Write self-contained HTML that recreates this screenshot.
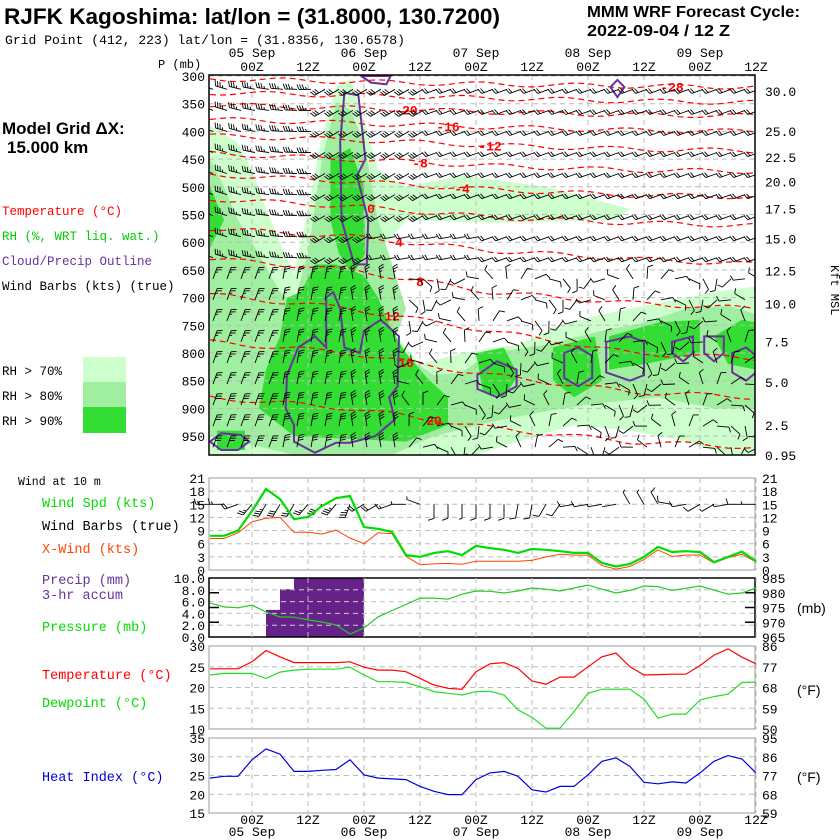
<!DOCTYPE html>
<html><head><meta charset="utf-8"><style>
html,body{margin:0;padding:0;background:#fff;}
svg{display:block;font-family:"Liberation Mono",monospace;}
.sans{font-family:"Liberation Sans",sans-serif;}
</style></head><body>
<svg id="chart" width="840" height="840" viewBox="0 0 840 840" xmlns="http://www.w3.org/2000/svg">
<text class="sans" x="4" y="24" font-size="22" font-weight="bold" textLength="496" lengthAdjust="spacingAndGlyphs">RJFK Kagoshima:  lat/lon = (31.8000, 130.7200)</text>
<text x="5" y="44" font-size="13" textLength="400" lengthAdjust="spacingAndGlyphs">Grid Point (412, 223) lat/lon = (31.8356, 130.6578)</text>
<text class="sans" x="587" y="17" font-size="16" font-weight="bold" textLength="213" lengthAdjust="spacingAndGlyphs">MMM WRF Forecast Cycle:</text>
<text class="sans" x="587" y="36" font-size="16" font-weight="bold" textLength="143" lengthAdjust="spacingAndGlyphs">2022-09-04 / 12  Z</text>
<text class="sans" x="2" y="134" font-size="17" font-weight="bold">Model Grid ΔX:</text>
<text class="sans" x="7" y="153" font-size="17" font-weight="bold">15.000 km</text>
<g font-size="12.5">
<text x="2" y="215" fill="#ff0000">Temperature (°C)</text>
<text x="2" y="240" fill="#00cc00">RH (%, WRT liq. wat.)</text>
<text x="2" y="265" fill="#663399">Cloud/Precip Outline</text>
<text x="2" y="290" fill="#000">Wind Barbs (kts) (true)</text>
<text x="2" y="375">RH &gt; 70%</text>
<text x="2" y="400">RH &gt; 80%</text>
<text x="2" y="425">RH &gt; 90%</text>
</g>
<rect x="83" y="357" width="43" height="25" fill="#ccffcc"/>
<rect x="83" y="382" width="43" height="25" fill="#a0eea0"/>
<rect x="83" y="407" width="43" height="26" fill="#33dd33"/>
<text x="158" y="68" font-size="12">P (mb)</text>
<text x="831" y="265" font-size="12" transform="rotate(90 831 265)">Kft MSL</text>
<g font-size="11.5">
<text x="18" y="485">Wind at 10 m</text>
</g>
<g font-size="13.5">
<text x="42" y="507" fill="#00dd00">Wind Spd (kts)</text>
<text x="42" y="530" fill="#000">Wind Barbs (true)</text>
<text x="42" y="553" fill="#ff4400">X-Wind (kts)</text>
<text x="42" y="584" fill="#663399">Precip (mm)</text>
<text x="42" y="599" fill="#663399">3-hr accum</text>
<text x="42" y="631" fill="#00dd00">Pressure (mb)</text>
<text x="42" y="679" fill="#ff0000">Temperature (°C)</text>
<text x="42" y="707" fill="#00dd00">Dewpoint (°C)</text>
<text x="42" y="781" fill="#0000dd">Heat Index (°C)</text>
</g>
<g font-size="14" class="sans">
<text x="797" y="613">(mb)</text>
<text x="797" y="695">(°F)</text>
<text x="797" y="782">(°F)</text>
</g>
<g id="upper"></g>
<g id="lower"></g>
</svg>
<script>
// ---------- data ----------
const steps = 40; // 3-hourly points, 15Z 04 Sep to 12Z 09 Sep
const timeTicks = [3,7,11,15,19,23,27,31,35,39];
const timeTickLabels = ["00Z","12Z","00Z","12Z","00Z","12Z","00Z","12Z","00Z","12Z"];
const dateLabels = ["05 Sep","06 Sep","07 Sep","08 Sep","09 Sep"];
const pressureTicks = [300,350,400,450,500,550,600,650,700,750,800,850,900,950];
const heightTicks = ["30.0","25.0","22.5","20.0","17.5","15.0","12.5","10.0","7.5","5.0","2.5","0.95"];
const heightTickPressure = [327,399,446,490,539,593,651,711,779,852,930,984];
const windSpd = [7.8,7.8,9,13.5,18.5,16.2,11.6,12.1,14.6,16.4,16.9,9.8,9.4,8.7,3.4,3.0,3.9,4.3,3.4,5.5,5.0,4.6,3.9,4.8,4.6,4.3,3.9,3.9,1.6,0.8,1.4,3.0,5.3,4.1,4.3,4.1,1.8,3.0,4.2,2.0];
const xWind = [7.2,7.2,8.5,11,11.8,12,8.6,8.6,8.2,9.1,7.3,6,8.5,8.3,3.1,1.2,1.4,1.5,1.3,2,2,2,2,2.2,3,3.6,3.4,3.4,1,0.2,0.8,2.4,4.6,3.1,3.4,3.4,1.6,2.8,3.6,1.8];
const windDir10 = [90,90,70,40,30,30,30,40,40,40,20,60,60,70,90,110,0,0,0,0,0,0,10,10,30,35,80,80,80,80,150,150,150,100,80,60,60,80,90,90];
const precip = [0,0,0,0,4.6,8.1,12,12,12,12,12,0,0,0,0,0,0,0,0,0,0,0,0,0,0,0,0,0,0,0,0,0,0,0,0,0,0,0,0];
const pressure = [976.5,975.2,974.9,975.8,973.5,971.8,971.7,970.8,970.1,969.1,966,968,971.8,974,976,978.2,978.2,977.8,979.5,980.6,980.5,979.9,980.6,981.6,981.2,980.6,981.6,982.6,981.2,979.9,980.8,982.3,982.1,980.8,981.5,982.3,980.9,979.5,979.9,981.6];
const temperature = [24.5,24.5,24.5,26.2,28.9,27.4,26,26,26,26,26.2,24.9,24.2,24.2,23.8,22.2,20.6,19.8,19.6,23.8,25.7,26,24.6,21.6,20.8,22.5,22.5,25,27.4,28.3,25,23,23.1,23.2,23.2,25.3,27.8,29.3,27.3,25.7];
const dewpoint = [23,23.4,23.4,23.4,22.2,23.7,24.2,24.4,24.4,24.4,24.9,23,21.4,21.4,21.2,20.2,19,18.6,18.2,19,19.1,18.2,14.6,12.8,10.2,10.2,14.2,18.6,19.6,19.6,19.6,17.2,12.6,13.6,13.6,17,17.8,18.4,21.2,21.3];
const heatIndex = [24.3,24.8,24.8,29.2,32.1,30.7,26.1,26.1,26.4,26.6,29.2,25.2,24.3,24.1,23.9,22.1,20.8,19.9,19.9,23.9,25.7,26.1,24.8,21.2,20.6,22.1,22.1,25.2,28.8,29.7,27.4,23.2,22.8,23.3,23,25.7,28.8,30.3,29.4,25.7];
const windTicks = [0,3,6,9,12,15,18,21];
const precipTicks = ["0.0","2.0","4.0","6.0","8.0","10.0"];
const presTicks = [965,970,975,980,985];
const tempTicks = [10,15,20,25,30];
const tempF = [50,59,68,77,86];
const hiTicks = [15,20,25,30,35];
const hiF = [59,68,77,86,95];
// isotherms: level (°C) and pressure at time nodes 0,10,20,30,39
const isoLevels = [-28,-24,-20,-16,-12,-8,-4,0,4,8,12,16,20];
const isoP0 = [305,330,352,378,408,440,478,522,575,630,695,780,880];
const isoP10 = [310,335,358,385,415,450,490,535,590,650,720,800,900];
const isoP20 = [315,340,365,392,425,462,505,555,615,690,760,840,935];
const isoP30 = [318,345,370,398,432,470,515,565,630,710,800,870,960];
const isoP39 = [320,348,372,400,435,472,518,570,640,720,810,880,970];
// RH areas as (step, pressure) pairs
const rh70 = [[0,390],[2,420],[3,470],[4,540],[5,600],[6,660],[7,540],[8,410],[9,320],[10,305],[11,380],[12,470],[14,500],[18,480],[24,500],[27,520],[30,540],[29,560],[20,565],[14,560],[12,620],[13,760],[15,820],[18,800],[22,785],[25,750],[28,730],[32,710],[36,690],[39,680],[39,984],[37,984],[34,960],[30,940],[26,930],[22,960],[19,984],[0,984]];
const rh80 = [[0,450],[1,500],[2,560],[3,600],[5,690],[6,710],[7,620],[8,450],[9,350],[10,360],[11,420],[12,560],[13,640],[14,720],[13,790],[16,840],[18,835],[20,800],[24,785],[28,760],[31,745],[34,720],[37,715],[39,730],[39,900],[36,900],[32,880],[28,890],[24,905],[20,925],[16,950],[13,984],[6,984],[2,960],[0,950]];
const rh90a = [[8.6,450],[10,430],[11,500],[11.1,620],[10.2,660],[9.2,620],[8.6,560]];
const rh90b = [[5.5,700],[6.5,690],[7.5,640],[9,640],[11,660],[12,700],[13,760],[14,800],[15.5,845],[17,880],[17,930],[14,960],[10,955],[6,950],[3.5,900],[4,830],[5,770]];
const rh90c = [[19,800],[21,790],[22,840],[21,880],[19.5,870]];
const rh90d = [[24.5,790],[27.5,770],[28,850],[26,880],[24.5,850]];
const rh90e = [[28.5,770],[32,745],[35,740],[35,800],[31,820],[28.5,830]];
const rh90f = [[36,770],[38,740],[39,745],[39,830],[37,820]];
const rh90g = [[0,500],[1,560],[0,610]];
const rh90h = [[0.5,940],[2.5,940],[2.5,975],[0.5,975]];
const cloud1 = [[9.6,330],[10.6,335],[11.1,450],[10.5,480],[11.3,560],[11.2,640],[10.3,640],[9.4,560],[9.3,420]];
const cloud2 = [[6.3,790],[7.5,770],[8.3,790],[8.3,700],[8.8,690],[9.3,720],[9.6,790],[10.7,800],[11,760],[12.2,740],[13.5,770],[13.4,860],[12.8,880],[13.2,920],[11.8,950],[10,962],[9,962],[7.5,980],[6,960],[6,930],[5.4,900],[5.5,840]];
const cloud3 = [[0,960],[0.8,945],[2.2,948],[2.8,960],[2,975],[0.8,975]];
const cloud4 = [[19.1,840],[20.5,815],[21.9,830],[21.9,860],[20.5,880],[19.1,865]];
const cloud5 = [[25.3,800],[26.3,790],[27.3,805],[27.3,845],[26.3,860],[25.3,845]];
const cloud6 = [[28.3,780],[30,770],[31,780],[31,840],[30,850],[28.3,835]];
const cloud7 = [[33,780],[34.5,770],[34.5,800],[33.8,815],[33,800]];
const cloud8 = [[35.3,770],[36.7,770],[36.7,800],[36,815],[35.3,800]];
const cloud9 = [[37.3,800],[38.3,790],[39,805],[39,835],[38.3,850],[37.3,835]];
const cloud10 = [[28.6,320],[29.1,307],[29.6,320],[29.1,338]];
const cloud11 = [[10.8,300],[11.5,312],[12.6,315],[12.9,300]];
const isoLabelSteps = [33,null,14,17,20,15,18,11.5,13.5,15,13,14,16];

// ---------- scales ----------
const L=209,R=755;
function X(s){return 210+14*s;}
function PY(p){return 76+(p-300)*0.554;}
function YW(v){return 570-v*92/21;}
function YP(v){return 637-v*5.9;}
function YPres(v){return 637-(v-965)*2.95;}
function YT(v){return 729-(v-10)*83/20;}
function YH(v){return 813-(v-15)*75/20;}
const NS="http://www.w3.org/2000/svg";
function mk(tag,attrs,parent){const e=document.createElementNS(NS,tag);for(const k in attrs)e.setAttribute(k,attrs[k]);parent.appendChild(e);return e;}
const up=document.getElementById('upper'), lo=document.getElementById('lower');

const defs=mk('defs',{},up);
const cp=mk('clipPath',{id:'upclip'},defs);mk('rect',{x:L,y:75,width:R-L,height:380},cp);
const ug=mk('g',{'clip-path':'url(#upclip)'},up);

function poly(arr,attrs,name){
  const e=mk('polygon',Object.assign({points:arr.map(a=>X(a[0]).toFixed(1)+','+PY(a[1]).toFixed(1)).join(' ')},attrs),ug);
  
  
  return e;
}
poly(rh70,{fill:'#ccffcc'},'rh-70-area');
poly(rh80,{fill:'#a0eea0'},'rh-80-area');
[rh90a,rh90b,rh90c,rh90d,rh90e,rh90f,rh90g,rh90h].forEach(a=>poly(a,{fill:'#33dd33'},'rh-90-area'));

pressureTicks.forEach(p=>{const l=mk('line',{x1:L,x2:R,y1:PY(p),y2:PY(p),stroke:'#bbb','stroke-dasharray':'5,4'},ug);

});
timeTicks.forEach(s=>{const l=mk('line',{x1:X(s),x2:X(s),y1:75,y2:455,stroke:'#bbb','stroke-dasharray':'5,4'},ug);

});

const nodes=[0,10,20,30,39];
isoLevels.forEach((lv,i)=>{
  const ps=[isoP0[i],isoP10[i],isoP20[i],isoP30[i],isoP39[i]];
  let pts=[];
  for(let s=0;s<=39;s+=0.5){
    let k=0;while(k<3&&s>nodes[k+1])k++;
    const f=(s-nodes[k])/(nodes[k+1]-nodes[k]);
    const p=ps[k]+(ps[k+1]-ps[k])*f+4*Math.sin(s*0.9+i);
    pts.push(X(s).toFixed(1)+','+PY(p).toFixed(1));
  }
  const e=mk('polyline',{points:pts.join(' '),fill:'none',stroke:'#ff0000','stroke-width':1.2,'stroke-dasharray':'6,4'},ug);
  
  
  if(isoLabelSteps[i]!==null){
    const s=isoLabelSteps[i];let k=0;while(k<3&&s>nodes[k+1])k++;
    const f=(s-nodes[k])/(nodes[k+1]-nodes[k]);const p=ps[k]+(ps[k+1]-ps[k])*f;
    const t=mk('text',{x:X(s),y:PY(p)+5,'font-size':13,'font-weight':'bold',fill:'#ff0000','text-anchor':'middle'},ug);
    t.textContent=String(lv);
    
    
  }
});

[cloud1,cloud2,cloud3,cloud4,cloud5,cloud6,cloud7,cloud8,cloud9,cloud10,cloud11].forEach(a=>poly(a,{fill:'none',stroke:'#663399','stroke-width':2},'cloud-outline'));

function barb(g,x,y,dir,spd,len,name){
  const r=dir*Math.PI/180;const dx=Math.sin(r),dy=-Math.cos(r);
  const tx=x+dx*len,ty=y+dy*len;
  let d='M'+x.toFixed(1)+','+y.toFixed(1)+'L'+tx.toFixed(1)+','+ty.toFixed(1);
  const px=-dy,py=dx;
  let v=Math.round(spd/5)*5,pos=0;
  const bl=len*0.42;
  while(v>=50){const bx=tx-dx*pos,by=ty-dy*pos;d+='M'+bx.toFixed(1)+','+by.toFixed(1)+'L'+(bx+px*bl).toFixed(1)+','+(by+py*bl).toFixed(1)+'L'+(bx-dx*3).toFixed(1)+','+(by-dy*3).toFixed(1);v-=50;pos+=4;}
  while(v>=10){const bx=tx-dx*pos,by=ty-dy*pos;d+='M'+bx.toFixed(1)+','+by.toFixed(1)+'L'+(bx+px*bl+dx*2).toFixed(1)+','+(by+py*bl+dy*2).toFixed(1);v-=10;pos+=2.5;}
  if(v>=5){const bx=tx-dx*pos,by=ty-dy*pos;d+='M'+bx.toFixed(1)+','+by.toFixed(1)+'L'+(bx+px*bl*0.5+dx).toFixed(1)+','+(by+py*bl*0.5+dy).toFixed(1);}
  const e=mk('path',{d:d,stroke:'#000','stroke-width':0.9,fill:'none'},g);
  
  
}
for(let s=0;s<40;s++){
  for(let p=315;p<=975;p+=38){
    let dir,spd;
    if(p<640){dir=s<8?290-s*3:(s<16?240:250);spd=s<8?35:(s<16?30:20);if(p>560&&s>=12&&s<20){dir=260;spd=20}}
    else if(s<14){dir=s<5?20:(s<10?10:350);spd=p>850?30:25;}
    else {dir=(s*37+p)%360;spd=10;}
    barb(ug,X(s)+3,PY(p)+5,dir,spd,12,'upper-wind-barb');
  }
}
mk('rect',{x:L,y:75,width:R-L,height:380,fill:'none',stroke:'#000','stroke-width':1.5},up);

pressureTicks.forEach(p=>{const t=mk('text',{x:205,y:PY(p)+5,'font-size':13,'text-anchor':'end'},up);t.textContent=p;

});
heightTicks.forEach((h,i)=>{const t=mk('text',{x:765,y:PY(heightTickPressure[i])+5,'font-size':13},up);t.textContent=h;

});
timeTicks.forEach((s,i)=>{
  const t=mk('text',{x:X(s),y:71,'font-size':13,'text-anchor':'middle'},up);t.textContent=timeTickLabels[i];
  
  
  const b=mk('text',{x:X(s),y:824,'font-size':13,'text-anchor':'middle'},lo);b.textContent=timeTickLabels[i];
  
  
  if(i%2===0){
    const d=mk('text',{x:X(s),y:57,'font-size':13,'text-anchor':'middle'},up);d.textContent=dateLabels[i/2];
    
    
    const d2=mk('text',{x:X(s),y:836,'font-size':13,'text-anchor':'middle'},lo);d2.textContent=dateLabels[i/2];
    
    
  }
});

function panel(y0,y1,stroke,name){const r=mk('rect',{x:L,y:y0,width:R-L,height:y1-y0,fill:'none',stroke:stroke,'stroke-width':stroke==='#000'?1.5:1.2},lo);


timeTicks.forEach(s=>{const l=mk('line',{x1:X(s),x2:X(s),y1:y0,y2:y1,stroke:'#bbb','stroke-dasharray':'5,4'},lo);

});}
function hgrid(y){const l=mk('line',{x1:L,x2:R,y1:y,y2:y,stroke:'#bbb','stroke-dasharray':'5,4'},lo);

}
function lbl(x,y,txt,anchor,name){const t=mk('text',{x:x,y:y+5,'font-size':13,'text-anchor':anchor},lo);t.textContent=txt;

}
function line(vals,fy,color,w,name){const e=mk('polyline',{points:vals.map((v,i)=>X(i)+','+fy(v).toFixed(1)).join(' '),fill:'none',stroke:color,'stroke-width':w},lo);

}

panel(478,570,'#aaa','wind-panel');
windTicks.forEach(v=>{if(v>0&&v<21)hgrid(YW(v));lbl(205,YW(v),v,'end','wind-tick-left');lbl(762,YW(v),v,'start','wind-tick-right');});
for(let i=0;i<40;i++)barb(lo,X(i),YW(15),windDir10[i]+180,windSpd[i]*2,14,'surface-wind-barb');
line(xWind,YW,'#ff4400',1,'x-wind-line');
line(windSpd,YW,'#00dd00',2.2,'wind-speed-line');

precipTicks.forEach((v,i)=>{const y=YP(+v);if(i>0&&i<5)hgrid(y);lbl(205,y,v,'end','precip-tick-label');});
const pcl=mk('clipPath',{id:'pclip'},defs);mk('rect',{x:L,y:578,width:R-L,height:59},pcl);
const pg=mk('g',{'clip-path':'url(#pclip)'},lo);
precip.forEach((v,i)=>{if(v>0){const r=mk('rect',{x:X(i),y:YP(v),width:14,height:637-YP(v),fill:'#662288'},pg);

}});
precipTicks.forEach((v,i)=>{if(i>0&&i<5){const l=mk('line',{x1:L,x2:R,y1:YP(+v),y2:YP(+v),stroke:'#ccc','stroke-dasharray':'5,4'},pg);

}});
panel(578,637,'#000','precip-panel');
presTicks.forEach(v=>{lbl(762,YPres(v),v,'start','pressure-tick-label');if(v>965&&v<985){const t=mk('line',{x1:R-10,x2:R,y1:YPres(v),y2:YPres(v),stroke:'#000','stroke-width':1.5},lo);


const t2=mk('line',{x1:L,x2:L+10,y1:YP((v-965)/2),y2:YP((v-965)/2),stroke:'#000','stroke-width':1.5},lo);

}});
line(pressure,YPres,'#22cc22',1.2,'pressure-line');

panel(646,729,'#aaa','temperature-panel');
tempTicks.forEach((v,i)=>{if(v>10&&v<30)hgrid(YT(v));lbl(205,YT(v),v,'end','temp-tick-left');lbl(762,YT(v),tempF[i],'start','temp-tick-right-f');});
line(temperature,YT,'#ff0000',1.2,'temperature-line');
line(dewpoint,YT,'#22dd22',1.2,'dewpoint-line');

panel(738,813,'#aaa','heat-index-panel');
hiTicks.forEach((v,i)=>{if(v>15&&v<35)hgrid(YH(v));lbl(205,YH(v),v,'end','heat-index-tick-left');lbl(762,YH(v),hiF[i],'start','heat-index-tick-right-f');});
line(heatIndex,YH,'#0000dd',1.2,'heat-index-line');
</script>
</body></html>
